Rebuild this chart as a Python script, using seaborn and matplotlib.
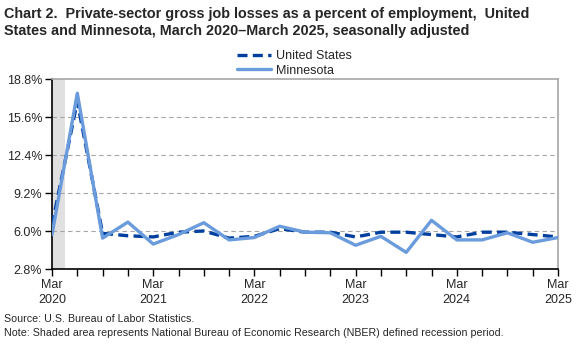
import matplotlib
matplotlib.use("Agg")
import matplotlib.pyplot as plt
import seaborn as sns
import pandas as pd
import numpy as np

quarters = ["Mar 2020", "Jun 2020", "Sep 2020", "Dec 2020",
            "Mar 2021", "Jun 2021", "Sep 2021", "Dec 2021",
            "Mar 2022", "Jun 2022", "Sep 2022", "Dec 2022",
            "Mar 2023", "Jun 2023", "Sep 2023", "Dec 2023",
            "Mar 2024", "Jun 2024", "Sep 2024", "Dec 2024",
            "Mar 2025"]
us_values = [6.5, 16.9, 5.8, 5.6, 5.5, 5.9, 6.0, 5.4, 5.55, 6.2, 5.9, 5.9,
             5.5, 5.9, 5.9, 5.7, 5.5, 5.9, 5.9, 5.7, 5.5]
mn_values = [5.7, 17.6, 5.4, 6.75, 4.9, 5.7, 6.7, 5.25, 5.45, 6.4, 5.9, 5.85,
             4.8, 5.55, 4.2, 6.9, 5.25, 5.25, 5.85, 5.05, 5.45]
y_ticks = [2.8, 6.0, 9.2, 12.4, 15.6, 18.8]
x_tick_labels = ["Mar\n2020", "Mar\n2021", "Mar\n2022", "Mar\n2023", "Mar\n2024", "Mar\n2025"]

sns.set_theme(style="white")
plt.rcParams['font.family'] = ['Liberation Sans', 'DejaVu Sans']

n = len(quarters)
df = pd.DataFrame({
    "idx": list(range(n)) * 2,
    "value": us_values + mn_values,
    "series": ["United States"] * n + ["Minnesota"] * n,
})

fig = plt.figure(figsize=(5.83, 3.46), dpi=100)
ax = fig.add_axes([52/583, 1 - 269/346, (558-52)/583, (269-79)/346])

ax.axvspan(0, 0.5, color="#e0e0e0", lw=0, zorder=0)

palette = {"United States": "#003f9e", "Minnesota": "#6a9bdc"}
sns.lineplot(data=df[df.series == "United States"], x="idx", y="value", ax=ax,
             color=palette["United States"], lw=2.4, linestyle=(0, (3, 1.6)),
             label="United States", zorder=3)
sns.lineplot(data=df[df.series == "Minnesota"], x="idx", y="value", ax=ax,
             color=palette["Minnesota"], lw=2.4, label="Minnesota", zorder=4)

ax.set_xlim(0, n - 1)
ax.set_ylim(2.8, 18.8)
ax.set_yticks(y_ticks)
ax.set_yticklabels([f"{v:.1f}%" for v in y_ticks], fontsize=9)
ax.set_xticks(range(0, n, 4))
ax.set_xticklabels(x_tick_labels, fontsize=9, linespacing=1.35)
ax.set_xticks(range(n), minor=True)
ax.set_xlabel("")
ax.set_ylabel("")

for y in y_ticks[1:-1]:
    ax.axhline(y, color="#a6a6a6", lw=0.8, linestyle=(0, (4, 3)), zorder=1)

ax.tick_params(axis="x", which="both", direction="out", length=5, width=1,
               color="black", bottom=True, pad=2)
ax.tick_params(axis="y", direction="out", length=5, width=1, color="black",
               left=True, pad=2)

for side in ["left", "bottom"]:
    ax.spines[side].set_color("black")
    ax.spines[side].set_linewidth(1.2)
for side in ["top", "right"]:
    ax.spines[side].set_color("#a6a6a6")
    ax.spines[side].set_linewidth(1.2)

handles, labels = ax.get_legend_handles_labels()
leg = fig.legend(handles, labels, loc="upper left", bbox_to_anchor=(237/583, 1 - 50/346),
                 ncol=1, frameon=False, fontsize=9, handlelength=2.7,
                 handletextpad=0.45, labelspacing=0.22, borderpad=0, borderaxespad=0)
if ax.get_legend():
    ax.get_legend().remove()

fig.text(4/583, 1 - 7/346,
         "Chart 2.  Private-sector gross job losses as a percent of employment,  United\n"
         "States and Minnesota, March 2020\u2013March 2025, seasonally adjusted",
         ha="left", va="top", fontsize=10.35, fontweight="bold", linespacing=1.3)

fig.text(4/583, 1 - 319/346, "Source: U.S. Bureau of Labor Statistics.",
         ha="left", va="center", fontsize=7.7)
fig.text(4/583, 1 - 333/346,
         "Note: Shaded area represents National Bureau of Economic Research (NBER) defined recession period.",
         ha="left", va="center", fontsize=7.7)

fig.savefig("out.png", dpi=100)
